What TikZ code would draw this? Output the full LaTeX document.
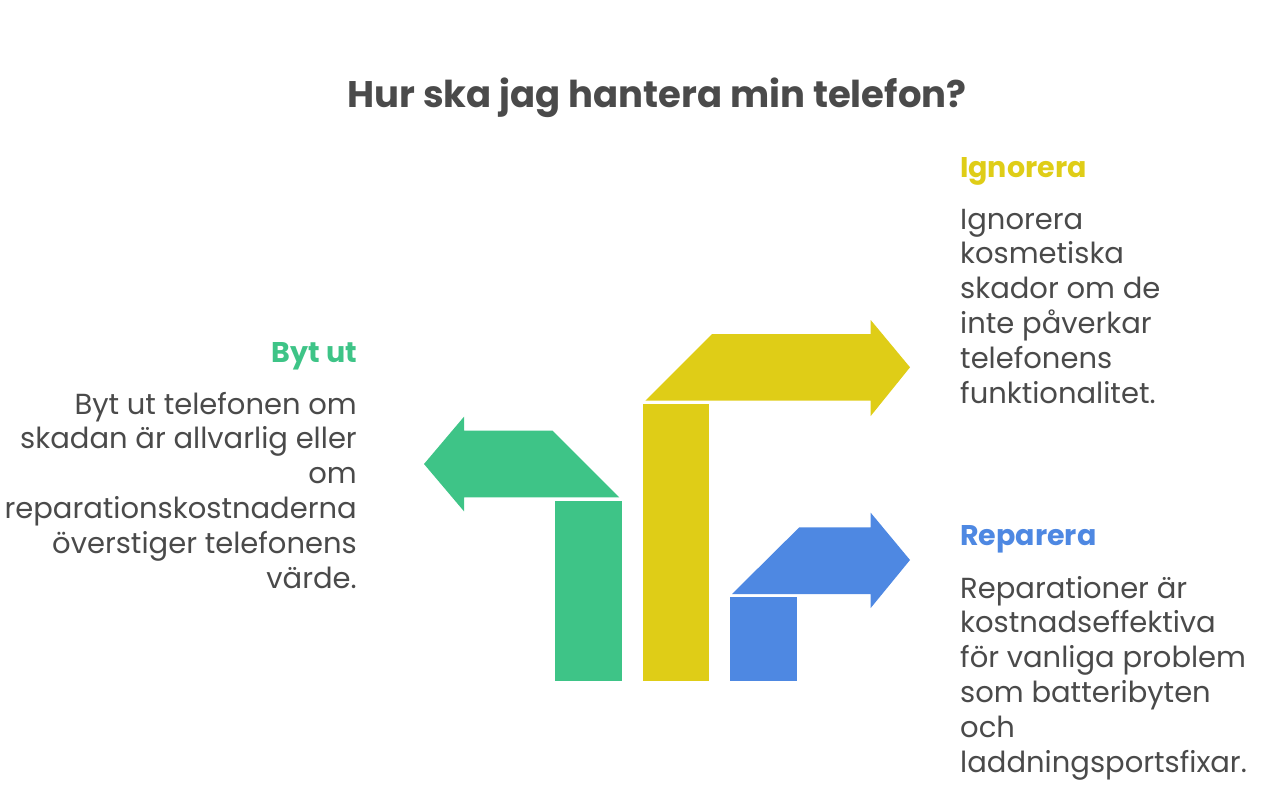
\documentclass[tikz,border=0pt]{standalone}
\usepackage{fontspec}
\setmainfont{Poppins}
\definecolor{grn}{HTML}{3EC487}
\definecolor{ylw}{HTML}{DFCD17}
\definecolor{blu}{HTML}{4E88E2}
\definecolor{ink}{HTML}{4A4A4A}
\begin{document}
\begin{tikzpicture}[x=1pt, y=-1pt,
  head/.style={inner sep=0, font=\fontsize{28.5}{32}\selectfont\bfseries},
  body/.style={inner sep=0, text=ink, font=\fontsize{29}{34.8}\selectfont}]
\useasboundingbox (0,0) rectangle (1280,804);
% title
\node[inner sep=0, text=ink, font=\fontsize{37}{42}\selectfont\bfseries, anchor=base] (title) at (657,107) {Hur ska jag hantera min telefon?};
% green arrow, left
\fill[grn] (552.7,430.7) -- (464,430.7) -- (464,416.7) -- (424,464) -- (464,511.3) -- (464,497.3) -- (619.3,497.3) -- cycle;
\fill[grn] (555,500.7) rectangle (621.7,680.7);
% yellow arrow, top
\fill[ylw] (645.3,400.7) -- (712,334) -- (870.7,334) -- (870.7,320) -- (910,367.3) -- (870.7,416) -- (870.7,400.7) -- cycle;
\fill[ylw] (642.7,404) rectangle (709.3,680.7);
% blue arrow, bottom
\fill[blu] (732,594) -- (799.3,527.3) -- (870.7,527.3) -- (870.7,512.7) -- (910,560) -- (870.7,608) -- (870.7,594) -- cycle;
\fill[blu] (730,596.7) rectangle (796.7,680.7);
% labels (base anchor sits on the last line)
\node[head, text=grn, anchor=base east] (bytut) at (357,362) {Byt ut};
\node[body, align=right, anchor=base east] (bytuttxt) at (357,588) {Byt ut telefonen om\\skadan är allvarlig eller\\om\\reparationskostnaderna\\överstiger telefonens\\värde.};
\node[head, text=ylw, anchor=base west] (ignorera) at (960,177) {Ignorera};
\node[body, align=left, anchor=base west] (ignoreratxt) at (960,403) {Ignorera\\kosmetiska\\skador om de\\inte påverkar\\telefonens\\funktionalitet.};
\node[head, text=blu, anchor=base west] (reparera) at (960,545) {Reparera};
\node[body, align=left, anchor=base west] (repareratxt) at (960,772) {Reparationer är\\kostnadseffektiva\\för vanliga problem\\som batteribyten\\och\\laddningsportsfixar.};
\end{tikzpicture}
\end{document}
